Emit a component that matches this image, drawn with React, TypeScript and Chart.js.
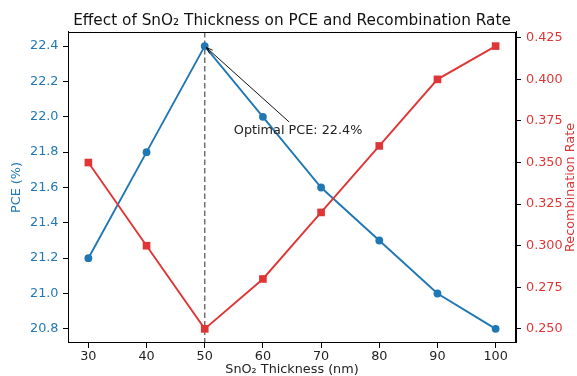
import React, { useEffect, useRef } from 'react';
import { Chart, registerables } from 'chart.js';

Chart.register(...registerables);

// ---- data ----
const thickness = [30, 40, 50, 60, 70, 80, 90, 100];
const pce = [21.2, 21.8, 22.4, 22.0, 21.6, 21.3, 21.0, 20.8];
const recombination = [0.35, 0.3, 0.25, 0.28, 0.32, 0.36, 0.4, 0.42];

const xTicks = [30, 40, 50, 60, 70, 80, 90, 100];
const pceTicks = [20.8, 21.0, 21.2, 21.4, 21.6, 21.8, 22.0, 22.2, 22.4];
const recTicks = [0.25, 0.275, 0.3, 0.325, 0.35, 0.375, 0.4, 0.425];

const optimalX = 50;
const optimalY = 22.4;
const annotationTextX = 55;
const annotationTextY = 21.9;
const annotationText = 'Optimal PCE: 22.4%';

const titleText = 'Effect of SnO₂ Thickness on PCE and Recombination Rate';
const xLabel = 'SnO₂ Thickness (nm)';
const yLabel = 'PCE (%)';
const y1Label = 'Recombination Rate';

// ---- style ----
const BLUE = '#1f77b4';
const RED = '#e03535';
const FONT = "'DejaVu Sans', sans-serif";
const TICK_SIZE = 12.8;

function padRange(vals: number[], frac = 0.05): [number, number] {
  const lo = Math.min(...vals);
  const hi = Math.max(...vals);
  const m = (hi - lo) * frac;
  return [lo - m, hi + m];
}

const [xMin, xMax] = padRange(thickness);
const [yMin, yMax] = padRange(pce);
const [y1Min, y1Max] = padRange(recombination);

const overlayPlugin = {
  id: 'overlay',
  beforeDatasetsDraw(chart: any) {
    const { ctx, chartArea, scales } = chart;
    const x = scales.x.getPixelForValue(optimalX);
    ctx.save();
    ctx.strokeStyle = '#707070';
    ctx.lineWidth = 1.5;
    ctx.setLineDash([5.5, 3]);
    ctx.beginPath();
    ctx.moveTo(x, chartArea.top);
    ctx.lineTo(x, chartArea.bottom);
    ctx.stroke();
    ctx.restore();
  },
  afterDraw(chart: any) {
    const { ctx, chartArea, scales } = chart;
    ctx.save();
    // frame
    ctx.strokeStyle = '#000';
    ctx.lineWidth = 1;
    ctx.strokeRect(
      Math.round(chartArea.left) + 0.5,
      Math.round(chartArea.top) + 0.5,
      Math.round(chartArea.right - chartArea.left) - 1,
      Math.round(chartArea.bottom - chartArea.top) - 1
    );

    // annotation text
    ctx.font = `${TICK_SIZE}px ${FONT}`;
    ctx.fillStyle = '#222';
    ctx.textAlign = 'left';
    ctx.textBaseline = 'alphabetic';
    const tx = scales.x.getPixelForValue(annotationTextX);
    const ty = scales.y.getPixelForValue(annotationTextY);
    ctx.fillText(annotationText, tx, ty);
    const w = ctx.measureText(annotationText).width;
    const cx = tx + w / 2;
    const cy = ty - 4.5;
    const px = scales.x.getPixelForValue(optimalX);
    const py = scales.y.getPixelForValue(optimalY);
    const dx = px - cx;
    const dy = py - cy;
    const t = Math.min(8 / Math.abs(dy), (w / 2 + 2) / Math.abs(dx));
    const sx = cx + dx * t;
    const sy = cy + dy * t;
    const len = Math.hypot(px - sx, py - sy);
    const ux = (px - sx) / len;
    const uy = (py - sy) / len;
    const ex = px - ux * 2;
    const ey = py - uy * 2;
    ctx.strokeStyle = '#111';
    ctx.lineWidth = 1;
    ctx.beginPath();
    ctx.moveTo(sx, sy);
    ctx.lineTo(ex, ey);
    ctx.stroke();
    const ang = Math.atan2(uy, ux);
    const hl = 7;
    const ha = 0.32;
    ctx.beginPath();
    ctx.moveTo(ex - hl * Math.cos(ang - ha), ey - hl * Math.sin(ang - ha));
    ctx.lineTo(ex, ey);
    ctx.lineTo(ex - hl * Math.cos(ang + ha), ey - hl * Math.sin(ang + ha));
    ctx.stroke();

    // right axis title (reads bottom-to-top)
    ctx.fillStyle = RED;
    ctx.font = `${TICK_SIZE}px ${FONT}`;
    ctx.textAlign = 'center';
    ctx.textBaseline = 'middle';
    ctx.translate(571, (chartArea.top + chartArea.bottom) / 2);
    ctx.rotate(-Math.PI / 2);
    ctx.fillText(y1Label, 0, 0);
    ctx.restore();
  },
};

export default function App() {
  const ref = useRef<HTMLCanvasElement | null>(null);

  useEffect(() => {
    document.body.style.margin = '0';
    const canvas = ref.current;
    if (!canvas) return;
    const tickFont = { family: FONT, size: TICK_SIZE };
    const chart = new Chart(canvas, {
      type: 'line',
      data: {
        datasets: [
          {
            label: 'PCE',
            data: thickness.map((x, i) => ({ x, y: pce[i] })),
            yAxisID: 'y',
            borderColor: BLUE,
            backgroundColor: BLUE,
            borderWidth: 1.9,
            pointStyle: 'circle',
            pointRadius: 3.9,
            pointBorderWidth: 0,
            tension: 0,
            order: 1,
          },
          {
            label: 'Recombination',
            data: thickness.map((x, i) => ({ x, y: recombination[i] })),
            yAxisID: 'y1',
            borderColor: RED,
            backgroundColor: RED,
            borderWidth: 1.9,
            pointStyle: 'rect',
            pointRadius: 5.4,
            pointBorderWidth: 0,
            tension: 0,
            order: 0,
          },
        ],
      },
      options: {
        responsive: false,
        animation: false,
        devicePixelRatio: 1,
        layout: { padding: 0 },
        plugins: {
          legend: { display: false },
          tooltip: { enabled: false },
          title: {
            display: true,
            text: titleText,
            color: '#111',
            fullSize: false,
            font: { family: FONT, size: 15.3, weight: 'normal', lineHeight: 1.2 },
            padding: { top: 12.3, bottom: 1.3 },
          },
        },
        scales: {
          x: {
            type: 'linear',
            min: xMin,
            max: xMax,
            afterBuildTicks: (s: any) => {
              s.ticks = xTicks.map((v) => ({ value: v }));
            },
            afterFit: (s: any) => {
              s.height = 33;
            },
            ticks: {
              color: '#222',
              font: tickFont,
              padding: 1,
              maxRotation: 0,
              autoSkip: false,
              callback: (v: any) => String(v),
            },
            grid: { drawOnChartArea: false, drawTicks: true, tickLength: 5, color: '#000' },
            border: { display: true, color: '#000', width: 1 },
            title: {
              display: true,
              text: xLabel,
              color: '#222',
              font: { family: FONT, size: TICK_SIZE, lineHeight: 1 },
              padding: 0,
            },
          },
          y: {
            type: 'linear',
            position: 'left',
            min: yMin,
            max: yMax,
            afterBuildTicks: (s: any) => {
              s.ticks = pceTicks.map((v) => ({ value: v }));
            },
            afterFit: (s: any) => {
              s.width = 68;
            },
            ticks: {
              color: BLUE,
              font: tickFont,
              padding: 4.5,
              autoSkip: false,
              callback: (v: any) => Number(v).toFixed(1),
            },
            grid: { drawOnChartArea: false, drawTicks: true, tickLength: 5, color: '#000' },
            border: { display: true, color: '#000', width: 1 },
            title: {
              display: true,
              text: yLabel,
              color: BLUE,
              font: { family: FONT, size: TICK_SIZE, lineHeight: 1 },
              padding: { top: 10.6, bottom: 0 },
            },
          },
          y1: {
            type: 'linear',
            position: 'right',
            min: y1Min,
            max: y1Max,
            afterBuildTicks: (s: any) => {
              s.ticks = recTicks.map((v) => ({ value: v }));
            },
            afterFit: (s: any) => {
              s.width = 61;
            },
            ticks: {
              color: RED,
              font: tickFont,
              padding: 5,
              autoSkip: false,
              callback: (v: any) => Number(v).toFixed(3),
            },
            grid: { drawOnChartArea: false, drawTicks: true, tickLength: 5, color: '#000' },
            border: { display: true, color: '#000', width: 1 },
            title: { display: false },
          },
        },
      },
      plugins: [overlayPlugin],
    } as any);
    return () => chart.destroy();
  }, []);

  return (
    <div style={{ width: 577, height: 376, position: 'relative' }}>
      <canvas ref={ref} width={577} height={376} style={{ display: 'block' }} />
    </div>
  );
}
